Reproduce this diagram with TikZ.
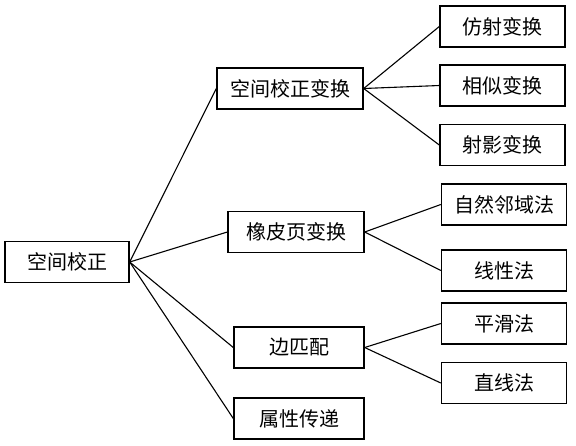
\documentclass[tikz,border=0pt]{standalone}
\usepackage{fontspec}
\setmainfont{Noto Sans CJK SC}

\begin{document}
\begin{tikzpicture}[x=0.5pt,y=-0.5pt,
  box/.style={draw,line width=0.7pt,minimum height=20.5pt,inner sep=0pt,font=\fontsize{10}{12}\selectfont},
  leaf/.style={box,minimum width=62.5pt},
  link/.style={line width=0.55pt}]

\useasboundingbox (0,0) rectangle (576,445);

% root
\node[box,minimum width=62pt] (root) at (67,262) {空间校正};

% second level
\node[box,minimum width=73pt] (sct) at (290,88.5) {空间校正变换};
\node[box,minimum width=68pt] (rub) at (296,232) {橡皮页变换};
\node[box,minimum width=65pt] (edge) at (299,347.5) {边匹配};
\node[box,minimum width=65pt] (attr) at (299,418.5) {属性传递};

% third level
\node[leaf] (aff) at (502.5,26.5) {仿射变换};
\node[leaf] (sim) at (502.5,85.5) {相似变换};
\node[leaf] (proj) at (502.5,145) {射影变换};
\node[leaf] (nat) at (504,204.5) {自然邻域法};
\node[leaf] (lin) at (504,270.5) {线性法};
\node[leaf] (smo) at (504,323.5) {平滑法};
\node[leaf] (str) at (504,383) {直线法};

% connectors
\foreach \c in {sct,rub,edge,attr}
  \draw[link] (root.east) -- (\c.west);
\foreach \c in {aff,sim,proj}
  \draw[link] (sct.east) -- (\c.west);
\foreach \c in {nat,lin}
  \draw[link] (rub.east) -- (\c.west);
\foreach \c in {smo,str}
  \draw[link] (edge.east) -- (\c.west);

\end{tikzpicture}
\end{document}
